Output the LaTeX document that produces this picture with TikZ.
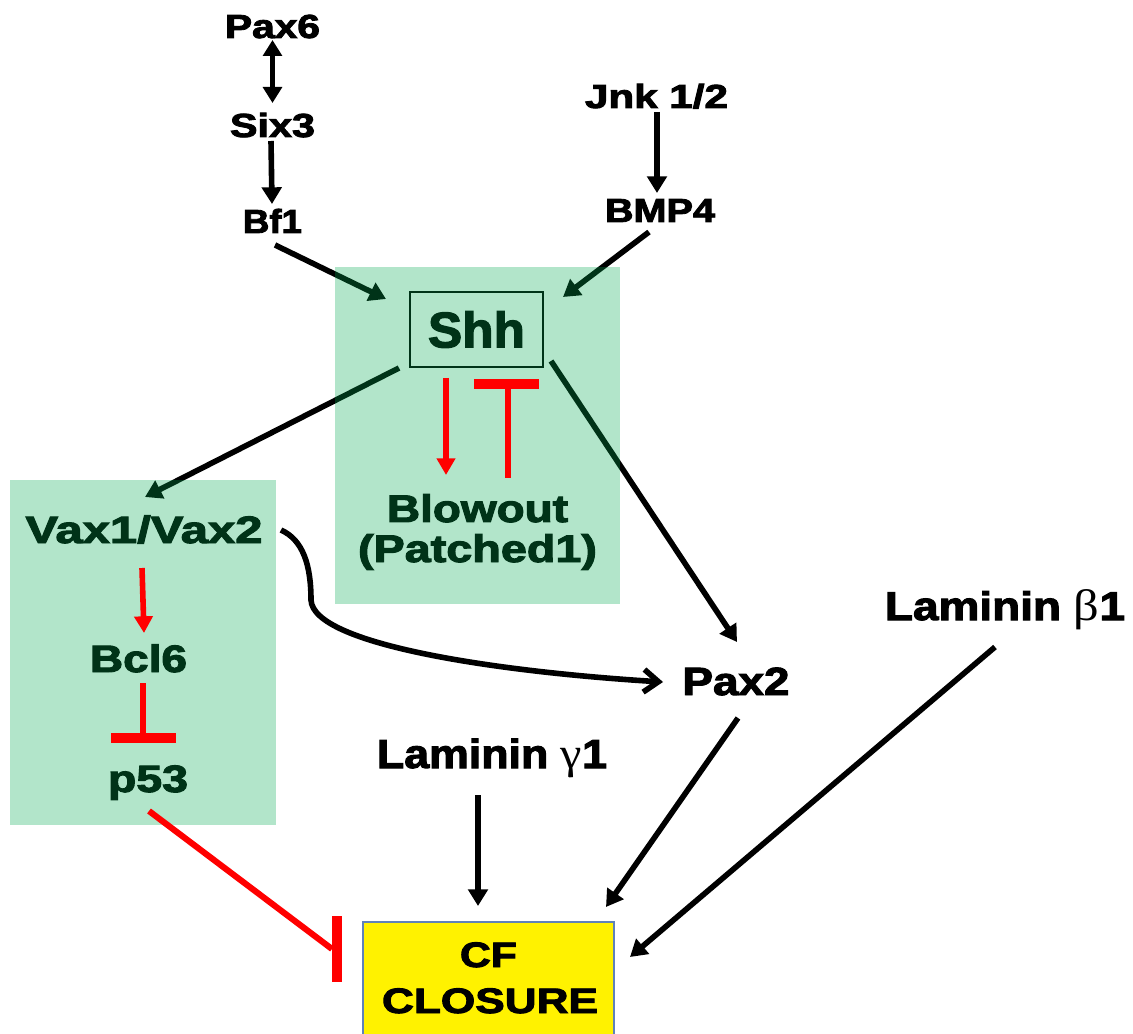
\documentclass[tikz,border=0pt]{standalone}
\usepackage{fontspec}
\setmainfont{Liberation Sans}
\newfontface\heavy{Liberation Sans Bold}[RawFeature={embolden=2.5}]
\newfontfamily\grk{Liberation Serif}
\usepackage{graphicx}
\usetikzlibrary{arrows.meta}
\definecolor{ovl}{RGB}{0,170,80}
\definecolor{boxedge}{RGB}{95,130,185}
\newcommand{\lbl}[3]{{\fontsize{#1}{#1}\selectfont\heavy\resizebox{#2}{\height}{#3}}}
\begin{document}
\begin{tikzpicture}[x=0.75pt,y=-0.75pt,
  lab/.style={inner sep=0pt, anchor=base},
  blk/.style={line width=4.2pt, -{Triangle[length=12.5pt,width=14.5pt]}},
  blkboth/.style={line width=4.2pt, {Triangle[length=12pt,width=14pt]}-{Triangle[length=12pt,width=14pt]}},
  curv/.style={line width=4.2pt, -{Straight Barb[length=11pt,width=17pt]}},
  redar/.style={red, line width=4.2pt, -{Triangle[length=12.5pt,width=13.5pt]}},
  redln/.style={red, line width=4.6pt},
  redbar/.style={red, line width=7pt},
  overlay box/.style={fill=ovl, fill opacity=0.3}]
\useasboundingbox (0,0) rectangle (1133,1034);
\fill[white] (0,0) rectangle (1133,1034);
% labels
\node[lab] (pax6) at (272.5,38) {\lbl{25pt}{71.25pt}{Pax6}};
\node[lab] (six3) at (272.5,137) {\lbl{25pt}{63.75pt}{Six3}};
\node[lab] (bf1) at (272.5,233) {\lbl{25pt}{44.25pt}{Bf1}};
\node[lab] (jnk) at (656.5,108) {\lbl{25pt}{107.25pt}{Jnk 1/2}};
\node[lab] (bmp4) at (660,222) {\lbl{25pt}{82.5pt}{BMP4}};
\node[draw, line width=1.5pt, minimum width=99.75pt, minimum height=56.25pt, inner sep=0pt] (shh) at (476.5,329.5) {\lbl{37.5pt}{72.75pt}{Shh}};
\node[lab] (vax) at (144,543) {\lbl{28.6pt}{177.75pt}{Vax1/Vax2}};
\node[lab] (bcl6) at (138.5,672) {\lbl{28.6pt}{72.75pt}{Bcl6}};
\node[lab] (p53) at (148,792) {\lbl{28.6pt}{60pt}{p53}};
\node[lab] (blow) at (477.5,522) {\lbl{28.8pt}{135.75pt}{Blowout}};
\node[lab] (patched) at (477.5,562) {\lbl{28.8pt}{179.25pt}{(Patched1)}};
\node[lab] (pax2) at (736,695) {\lbl{29.5pt}{80.25pt}{Pax2}};
\node[lab] (lamg) at (492,768) {\lbl{30.5pt}{172.5pt}{Laminin {\grk\fontsize{33pt}{33pt}\selectfont γ}1}};
\node[lab] (lamb) at (1005,620) {\lbl{30pt}{180pt}{Laminin {\grk\fontsize{33pt}{33pt}\selectfont β}1}};
\node[draw=boxedge, fill=yellow, line width=1.5pt, minimum width=188.25pt, minimum height=103.5pt, inner sep=0pt] (cfbox) at (488.5,991) {};
\node[lab] (cf) at (488.5,967) {\lbl{26.5pt}{42.75pt}{CF}};
\node[lab] (closure) at (490,1013) {\lbl{26.5pt}{162pt}{CLOSURE}};
% black connectors
\draw[blkboth] ([shift={(0,2)}]pax6.base) -- ([shift={(0,-34)}]six3.base);
\draw[blk] ([shift={(-1.5,4)}]six3.base) -- ([shift={(-0.5,-29)}]bf1.base);
\draw[blk] ([shift={(0.5,4)}]jnk.base) -- ([shift={(-3,-29)}]bmp4.base);
\draw[blk] ([shift={(2.5,12)}]bf1.base) -- ([shift={(-23,8)}]shh.north west);
\draw[blk] ([shift={(-11,10)}]bmp4.base) -- ([shift={(19,6)}]shh.north east);
\draw[blk] ([shift={(-10,0)}]shh.south west) -- ([shift={(1,-46)}]vax.base);
\draw[blk] ([shift={(7,-7)}]shh.south east) -- ([shift={(1,-53)}]pax2.base);
\draw[curv] ([shift={(137,-13)}]vax.base) .. controls (303,540) and (311,565) .. (311,600)
  .. controls (313,645) and (500,672) .. ([shift={(-73,-13)}]pax2.base);
\draw[blk] ([shift={(-14,27)}]lamg.base) -- ([shift={(-10.5,-15)}]cfbox.north);
\draw[blk] ([shift={(2,23)}]pax2.base) -- ([shift={(-9,-14)}]cfbox.north east);
\draw[blk] ([shift={(-10,27)}]lamb.base) -- ([shift={(15,36)}]cfbox.north east);
% translucent green panels
\fill[overlay box] (335,267) rectangle (620,604);
\fill[overlay box] (10,480) rectangle (276,825);
% red connectors
\draw[redar] ([shift={(-30.5,10)}]shh.south) -- ([shift={(-31.5,-47)}]blow.base);
\draw[redln] ([shift={(30.5,-44)}]blow.base) -- ([shift={(31.5,16)}]shh.south);
\draw[redbar] ([shift={(-2.5,16)}]shh.south) -- ([shift={(62.5,16)}]shh.south);
\draw[redar] ([shift={(-2,25)}]vax.base) -- ([shift={(5.5,-39)}]bcl6.base);
\draw[redln] ([shift={(4.5,11)}]bcl6.base) -- ([shift={(-5,-54)}]p53.base);
\draw[redbar] ([shift={(-37,-54)}]p53.base) -- ([shift={(28,-54)}]p53.base);
\draw[redln] ([shift={(1,19)}]p53.base) -- ([shift={(-30,28)}]cfbox.north west);
\draw[redbar, line width=7.5pt] ([shift={(-25,-5)}]cfbox.north west) -- ([shift={(-25,61)}]cfbox.north west);
\end{tikzpicture}
\end{document}
